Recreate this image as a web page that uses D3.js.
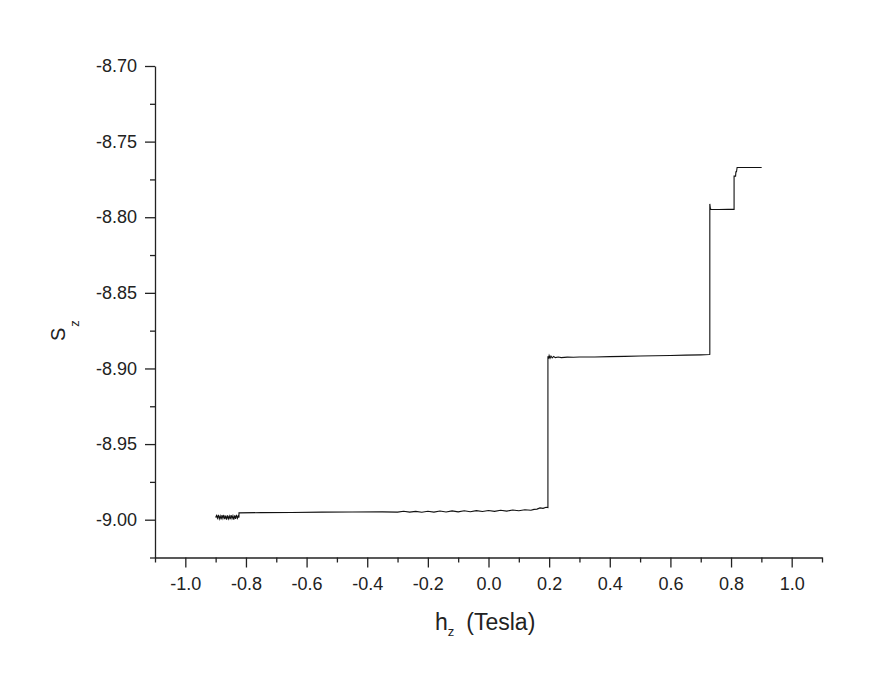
<!DOCTYPE html>
<html><head><meta charset="utf-8">
<script src="https://cdn.jsdelivr.net/npm/d3@7"></script>
<style>body{margin:0;background:#fff}svg{display:block}text{font-family:"Liberation Sans",Arial,sans-serif;fill:#222}</style>
</head><body><svg id="c" width="872" height="694"></svg>
<script>
// Field (Tesla) and Sz values
const hField = [
 -0.900,-0.897,-0.894,-0.891,-0.888,-0.885,-0.882,-0.879,-0.876,-0.873,-0.870,-0.867,-0.864,-0.861,-0.858,-0.855,-0.852,-0.849,-0.846,-0.843,-0.840,-0.837,-0.834,-0.831,-0.828,-0.825,-0.823,
 -0.823,-0.75,-0.65,-0.55,-0.45,-0.35,-0.30,-0.28,-0.26,-0.24,-0.22,-0.20,-0.18,-0.16,-0.14,-0.12,-0.10,-0.08,-0.06,-0.04,-0.02,0.00,0.02,0.04,0.06,0.08,0.10,0.12,0.14,0.15,0.16,0.17,0.18,0.19,0.196,
 0.196,0.198,0.200,0.203,0.206,0.210,0.215,0.22,0.23,0.24,0.26,0.28,0.30,0.35,0.40,0.45,0.50,0.55,0.60,0.65,0.70,0.728,0.730,
 0.730,0.732,0.735,0.76,0.79,0.810,
 0.810,0.812,0.815,0.816,0.818,0.820,0.822,0.824,0.85,0.88,0.901
];
const szValue = [
 -8.9985,-8.9972,-8.9990,-8.9968,-8.9995,-8.9975,-8.9998,-8.9970,-8.9992,-8.9969,-8.9996,-8.9973,-8.9999,-8.9971,-8.9994,-8.9976,-8.9997,-8.9970,-8.9993,-8.9974,-9.0000,-8.9972,-8.9995,-8.9968,-8.9990,-8.9975,-8.9985,
 -8.9955,-8.9953,-8.9952,-8.9950,-8.9949,-8.9948,-8.9950,-8.9944,-8.9950,-8.9945,-8.9951,-8.9944,-8.9950,-8.9943,-8.9949,-8.9942,-8.9948,-8.9941,-8.9947,-8.9940,-8.9946,-8.9939,-8.9945,-8.9938,-8.9943,-8.9936,-8.9941,-8.9934,-8.9938,-8.9932,-8.9930,-8.9922,-8.9925,-8.9918,-8.9920,
 -8.8920,-8.8935,-8.8915,-8.8932,-8.8918,-8.8930,-8.8920,-8.8928,-8.8924,-8.8928,-8.8925,-8.8926,-8.8924,-8.8924,-8.8922,-8.8920,-8.8918,-8.8916,-8.8914,-8.8912,-8.8910,-8.8908,-8.8907,
 -8.7912,-8.7945,-8.7949,-8.7949,-8.7948,-8.7948,
 -8.7728,-8.7728,-8.7728,-8.7699,-8.7699,-8.7671,-8.7671,-8.7671,-8.7671,-8.7671,-8.7671
];
const xMajorTicks = [-1.0,-0.8,-0.6,-0.4,-0.2,0.0,0.2,0.4,0.6,0.8,1.0];
const xMinorTicks = [-1.1,-0.9,-0.7,-0.5,-0.3,-0.1,0.1,0.3,0.5,0.7,0.9,1.1];
const yMajorTicks = [-9.00,-8.95,-8.90,-8.85,-8.80,-8.75,-8.70];
const yMinorTicks = [-9.025,-8.975,-8.925,-8.875,-8.825,-8.775,-8.725];

const svg = d3.select("#c");
const x = d3.scaleLinear().domain([-1.1,1.1]).range([155,822]);
const y = d3.scaleLinear().domain([-9.025,-8.70]).range([557.5,66]);
const fmt = p => d => (Math.abs(d) < 1e-9 ? 0 : d).toFixed(p); // plain hyphen minus

// x axis
const gx = svg.append("g").attr("transform","translate(0,557.5)");
gx.call(d3.axisBottom(x).tickValues(xMajorTicks).tickSize(10).tickSizeOuter(0).tickPadding(10).tickFormat(fmt(1)));
gx.append("g").call(d3.axisBottom(x).tickValues(xMinorTicks).tickSize(5).tickSizeOuter(0).tickFormat("")).select(".domain").remove();
// y axis
const gy = svg.append("g").attr("transform","translate(155,0)");
gy.call(d3.axisLeft(y).tickValues(yMajorTicks).tickSize(10).tickSizeOuter(0).tickPadding(8).tickFormat(fmt(2)));
gy.append("g").call(d3.axisLeft(y).tickValues(yMinorTicks).tickSize(5).tickSizeOuter(0).tickFormat("")).select(".domain").remove();

svg.selectAll(".domain").attr("stroke","#222").attr("stroke-width",1.3);
svg.selectAll(".tick line").attr("stroke","#222").attr("stroke-width",1.3);
svg.selectAll(".tick text").attr("font-size",18).attr("fill","#222").style("font-family","'Liberation Sans',Arial,sans-serif");

// data line
const pts = hField.map((h,i)=>[h,szValue[i]]);
svg.append("path").datum(pts)
  .attr("fill","none").attr("stroke","#111").attr("stroke-width",1.1)
  .attr("d", d3.line().x(d=>x(d[0])).y(d=>y(d[1])));

// axis titles
const xt = svg.append("text").attr("x",435).attr("y",630).attr("font-size",23);
xt.append("tspan").text("h");
xt.append("tspan").attr("font-size",13).attr("dy",6).attr("dx",0).text("z");
xt.append("tspan").attr("dy",-6).attr("dx",12).text("(Tesla)");

const yt = svg.append("text").attr("transform","translate(65,341) rotate(-90)").attr("font-size",20);
yt.append("tspan").text("S");
yt.append("tspan").attr("font-size",13).attr("dy",14).attr("dx",1).text("z");
</script></body></html>
